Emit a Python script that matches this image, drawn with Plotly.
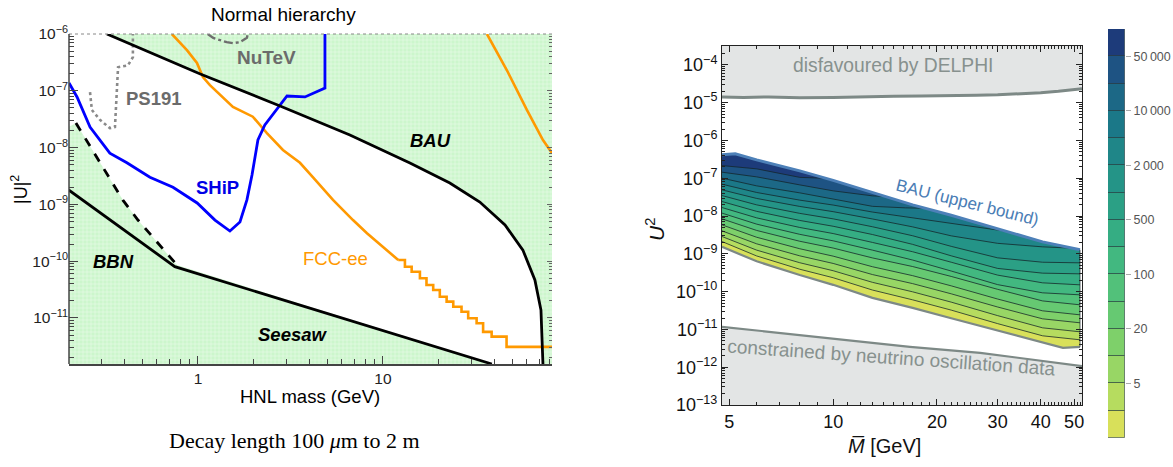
import numpy as np
import plotly.graph_objects as go

W, H = 1173, 467
SANS = "Liberation Sans, Arial, sans-serif"
SERIF = "Liberation Serif, Times New Roman, serif"

# ------------------------------------------------------------------
# Left panel: HNL mass (GeV) vs |U|^2, normal hierarchy
# ------------------------------------------------------------------
bau_mass = [0.322, 1.03, 2.78, 6.63, 14.0, 23.0, 33.4, 45.7, 57.1, 66.3, 71.5, 73.3]
bau_u2 = [1.0e-6, 1.98e-7, 5.4e-8, 1.67e-8, 5.36e-9, 2.38e-9, 1.10e-9, 4.34e-10,
          1.57e-10, 4.67e-11, 1.38e-11, 1.55e-12]

seesaw_mass = [0.2, 0.75, 38.8]
seesaw_u2 = [1.8e-9, 8.0e-11, 1.55e-12]

bbn_mass = [0.219, 0.393, 0.474, 0.77]
bbn_u2 = [2.71e-8, 1.19e-9, 5.31e-10, 8.57e-11]

ship_mass = [0.201, 0.222, 0.261, 0.334, 0.413, 0.550, 0.733, 0.99, 1.236, 1.489,
             1.687, 1.84, 1.96, 2.11, 2.30, 2.67, 3.03, 3.79, 4.86, 4.86]
ship_u2 = [1.37e-7, 7.8e-8, 2.3e-8, 8.0e-9, 5.4e-9, 3.0e-9, 2.0e-9, 1.06e-9, 5.3e-10, 3.4e-10,
           4.9e-10, 1.2e-9, 3.3e-9, 1.36e-8, 2.5e-8, 4.6e-8, 8.1e-8, 7.8e-8, 1.12e-7, 1.0e-6]

fcc_mass = [0.723, 0.872, 0.988, 1.064, 1.161, 1.546, 1.98, 2.36, 2.88, 3.56, 4.19,
            5.37, 6.89, 8.20, 12.1]
fcc_u2 = [1.0e-6, 5.2e-7, 3.1e-7, 1.75e-7, 1.26e-7, 5.2e-8, 3.5e-8, 1.8e-8, 9.1e-9, 5.4e-9,
          3.0e-9, 1.2e-9, 5.3e-10, 3.1e-10, 1.05e-10]
fcc_step_mass = [12.1, 13.15, 14.3, 15.85, 17.2, 18.7, 20.3, 22.1, 24.0, 26.6, 28.9, 32.1,
                 34.8, 38.7, 46.6, 82.0]
fcc_step_u2 = [1.05e-10, 8.0e-11, 6.5e-11, 5.0e-11, 3.81e-11, 3.11e-11, 2.37e-11, 1.94e-11,
               1.58e-11, 1.29e-11, 9.9e-12, 8.1e-12, 5.7e-12, 4.7e-12, 3.1e-12, 3.1e-12]
fcc_heavy_mass = [36.5, 46.8, 60.0, 73.3, 82.0]
fcc_heavy_u2 = [1.0e-6, 2.3e-7, 4.6e-8, 1.36e-8, 8.0e-9]

ps191_mass = [0.261, 0.267, 0.295, 0.334, 0.356, 0.365, 0.370, 0.418, 0.445, 0.445]
ps191_u2 = [9.5e-8, 4.6e-8, 3.1e-8, 2.2e-8, 2.3e-8, 9.1e-8, 2.6e-7, 2.8e-7, 3.9e-7, 1.0e-6]

nutev_mass = [1.13, 1.21, 1.43, 1.55, 1.69, 1.84, 1.86]
nutev_u2 = [1.0e-6, 8.5e-7, 7.2e-7, 6.9e-7, 7.2e-7, 8.6e-7, 1.0e-6]

left_yticks = [1e-11, 1e-10, 1e-9, 1e-8, 1e-7, 1e-6]
left_ytext = ["10<sup>\u221211</sup>", "10<sup>\u221210</sup>", "10<sup>\u22129</sup>",
              "10<sup>\u22128</sup>", "10<sup>\u22127</sup>", "10<sup>\u22126</sup>"]
left_xticks = [1, 10]
left_xtext = ["1", "10"]

# ------------------------------------------------------------------
# Right panel: mean mass vs U^2 with contour bands (log10 U^2 values)
# ------------------------------------------------------------------
delphi_m = [4.76, 5.5, 6.5, 8, 10, 12, 15, 18, 22, 26, 30, 35, 40, 45, 52.7]
delphi_lg = [-4.85, -4.86, -4.85, -4.87, -4.86, -4.84, -4.83, -4.82, -4.82, -4.80,
             -4.79, -4.77, -4.74, -4.70, -4.63]

osc_m = [4.76, 9.6, 16.7, 26.7, 52.7]
osc_lg = [-10.93, -11.22, -11.46, -11.62, -11.97]

bau_r_m = [4.76, 5.2, 6, 8, 10, 13, 17, 22, 30, 40.5, 52]
bau_r_lg = [-6.381, -6.354, -6.513, -6.804, -7.056, -7.373, -7.704, -7.979, -8.344,
            -8.683, -8.894]

low_r_m = [4.76, 6, 8, 10, 13, 17, 22, 30, 40.5, 46.4, 52]
low_r_lg = [-8.815, -9.198, -9.561, -9.820, -10.164, -10.429, -10.706, -11.037, -11.354,
            -11.487, -11.460]

cols_m = [4.76, 6, 8, 10, 13, 17, 22, 30, 40.5, 52]
iso_2 = [-8.675, -9.056, -9.407, -9.632, -9.958, -10.217, -10.489, -10.847, -11.169, -11.275]
iso_5 = [-8.542, -8.902, -9.235, -9.447, -9.754, -10.005, -10.278, -10.635, -10.958, -11.063]
iso_10 = [-8.392, -8.735, -9.053, -9.254, -9.548, -9.788, -10.058, -10.407, -10.720, -10.825]
iso_20 = [-8.233, -8.561, -8.865, -9.061, -9.341, -9.577, -9.847, -10.196, -10.508, -10.614]
iso_50 = [-8.074, -8.381, -8.667, -8.847, -9.108, -9.336, -9.598, -9.939, -10.246, -10.349]
iso_100 = [-7.923, -8.214, -8.484, -8.656, -8.902, -9.164, -9.455, -9.815, -10.032, -10.085]
iso_200 = [-7.775, -8.048, -8.302, -8.463, -8.698, -8.944, -9.222, -9.563, -9.767, -9.820]
iso_500 = [-7.616, -7.876, -8.116, -8.270, -8.489, -8.749, -9.053, -9.386, -9.511, -9.529]
iso_1000 = [-7.458, -7.704, -7.929, -8.074, -8.283, -8.521, -8.802, -9.106, -9.222, -9.238]
iso_2000_m = [4.76, 6, 8, 10, 13, 17, 22, 30, 40.5, 49.3]
iso_2000 = [-7.307, -7.534, -7.746, -7.884, -8.077, -8.286, -8.524, -8.722, -8.815, -8.85]
iso_5000_m = [4.76, 6, 8, 10, 13, 17, 22, 31.5]
iso_5000 = [-7.156, -7.376, -7.579, -7.709, -7.894, -8.048, -8.206, -8.398]
iso_10000_m = [4.76, 6, 8, 10, 13, 16.2, 18.5]
iso_10000 = [-6.997, -7.201, -7.386, -7.545, -7.743, -7.783, -7.795]
iso_20000_m = [4.76, 6, 8, 10, 13, 14.2]
iso_20000 = [-6.839, -6.963, -7.175, -7.333, -7.466, -7.482]
iso_50000_m = [4.76, 6, 8, 9.48]
iso_50000 = [-6.664, -6.751, -6.976, -7.000]

levels = [1, 2, 5, 10, 20, 50, 100, 200, 500, 1000, 2000, 5000, 10000, 20000, 50000, 100000]
level_labels = [5, 20, 100, 500, 2000, 10000, 50000]
band_colors = ["#d8e05a", "#b6dc5f", "#98d665", "#7ed06a", "#66c972", "#52c17a", "#42b880",
               "#35ad83", "#2ba085", "#249487", "#1f8688", "#1b7888", "#1c6886", "#1e5383",
               "#1d3b7a"]

right_yticks = [10.0 ** e for e in range(-13, -3)]
right_ytext = ["10<sup>\u2212%d</sup>" % -e for e in range(-13, -3)]
right_xticks = [5, 10, 20, 30, 40, 50]

# ------------------------------------------------------------------
fig = go.Figure()


def line(x, y, color, width=2.8, dash=None, shape="linear", xa="x", ya="y"):
    fig.add_trace(go.Scatter(x=x, y=y, mode="lines", xaxis=xa, yaxis=ya,
                             line=dict(color=color, width=width, dash=dash, shape=shape),
                             hoverinfo="skip", showlegend=False))


def area(x, y, color, pattern=None, xa="x", ya="y"):
    fig.add_trace(go.Scatter(x=x, y=y, mode="lines", fill="toself", fillcolor=color,
                             fillpattern=pattern, xaxis=xa, yaxis=ya,
                             line=dict(width=0, color=color),
                             hoverinfo="skip", showlegend=False))


GREEN = "#ccf6cc"
hatch = dict(shape="+", fgcolor="rgba(255,255,255,0.9)", bgcolor=GREEN, size=4, solidity=0.33)

# excluded (green) regions
area(bau_mass + [90, 90, 0.30], bau_u2 + [1e-12, 1.3e-6, 1.3e-6], GREEN, hatch)
area([0.2] + bbn_mass + [seesaw_mass[-1], seesaw_mass[-1], 0.2],
     [2.3e-8] + bbn_u2 + [seesaw_u2[-1], 1e-12, 1e-12], GREEN, hatch)

line(ps191_mass, ps191_u2, "#8a8a8a", 2.6, "dot")
line(nutev_mass, nutev_u2, "#6e6e6e", 2.4, "dashdot")
line(fcc_mass, fcc_u2, "#ff9900", 2.6)
line(fcc_step_mass, fcc_step_u2, "#ff9900", 2.6, shape="hv")
line(fcc_heavy_mass, fcc_heavy_u2, "#ff9900", 2.6)
line(ship_mass, ship_u2, "#0000ff", 2.8)
line(bbn_mass, bbn_u2, "#000000", 2.8, "dash")
line(seesaw_mass, seesaw_u2, "#000000", 2.8)
line(bau_mass, bau_u2, "#000000", 2.8)

# placeholder so the right-hand tick axis of the left panel is drawn
fig.add_trace(go.Scatter(x=[], y=[], xaxis="x", yaxis="y4", showlegend=False))

# ---------------- right panel ----------------
def lg2u(v):
    return list(10.0 ** np.asarray(v, dtype=float))


area(delphi_m + [52.7, 4.76], lg2u(delphi_lg + [-3.4, -3.4]), "#e3e5e5", xa="x2", ya="y2")
area(osc_m + [52.7, 4.76], lg2u(osc_lg + [-13.1, -13.1]), "#e3e5e5", xa="x2", ya="y2")
line(delphi_m, lg2u(delphi_lg), "#7d8986", 3.0, xa="x2", ya="y2")
line(osc_m, lg2u(osc_lg), "#7d8986", 2.2, xa="x2", ya="y2")

# base band between the lower boundary and the BAU bound
area(low_r_m + bau_r_m[::-1], lg2u(low_r_lg + bau_r_lg[::-1]), band_colors[0], xa="x2", ya="y2")

iso_lines = [
    (cols_m, iso_2), (cols_m, iso_5), (cols_m, iso_10), (cols_m, iso_20), (cols_m, iso_50),
    (cols_m, iso_100), (cols_m, iso_200), (cols_m, iso_500), (cols_m, iso_1000),
    (iso_2000_m, iso_2000), (iso_5000_m, iso_5000), (iso_10000_m, iso_10000),
    (iso_20000_m, iso_20000), (iso_50000_m, iso_50000),
]

# each band: everything above a contour up to the BAU bound, painted bottom to top
for k, (mm, lg) in enumerate(iso_lines):
    m_end = mm[-1]
    top = [(m, v) for m, v in zip(bau_r_m, bau_r_lg) if m <= m_end + 1e-9][::-1]
    xs = list(mm) + [t[0] for t in top]
    ys = list(lg) + [t[1] for t in top]
    area(xs, lg2u(ys), band_colors[k + 1], xa="x2", ya="y2")

for mm, lg in iso_lines:
    line(mm, lg2u(lg), "rgba(20,35,40,0.85)", 0.9, xa="x2", ya="y2")

line(low_r_m, lg2u(low_r_lg), "#7d8986", 2.2, xa="x2", ya="y2")
line(bau_r_m, lg2u(bau_r_lg), "#4d80b8", 3.0, xa="x2", ya="y2")
line([bau_r_m[-1], low_r_m[-1]], lg2u([bau_r_lg[-1], low_r_lg[-1]]),
     "rgba(20,35,40,0.7)", 1.0, xa="x2", ya="y2")

# ---------------- colour legend ----------------
n_bands = len(levels) - 1
fig.add_trace(go.Bar(x=[0] * n_bands, y=[1] * n_bands, base=list(range(n_bands)), width=1,
                     marker=dict(color=band_colors, line=dict(color="rgba(25,45,50,0.55)", width=1)),
                     xaxis="x3", yaxis="y3", hoverinfo="skip", showlegend=False))
cb_ticks = [levels.index(v) for v in level_labels]
cb_text = ["{:,}".format(v).replace(",", "\u2009") for v in level_labels]


# ------------------------------------------------------------------
def fx(px):
    return px / W


def fy(py):
    return 1 - py / H


left_xminor = [d * 10.0 ** e for e in (-1, 0, 1) for d in range(2, 10) if 0.2 < d * 10.0 ** e < 82]
left_yminor = [d * 10.0 ** e for e in range(-12, -6) for d in range(2, 10)]
right_xminor = [v for v in range(6, 53) if v not in right_xticks]
right_yminor = [d * 10.0 ** e for e in range(-13, -3) for d in range(2, 10)]

left_font = dict(family=SANS, size=15.5, color="#222")
right_font = dict(family=SANS, size=18, color="#111")

ann = []


def label(text, x, y, size, color, family=SANS, angle=0):
    ann.append(dict(text=text, x=fx(x), y=fy(y), xref="paper", yref="paper", showarrow=False,
                    xanchor="center", yanchor="middle", textangle=angle,
                    font=dict(family=family, size=size, color=color)))


label("Normal hierarchy", 283, 14, 19, "#000")
label("<b>NuTeV</b>", 266, 57, 19, "#6b6b6b")
label("<b>PS191</b>", 154, 98, 18.5, "#6b6b6b")
label("<b>SHiP</b>", 217, 188, 18.5, "#0000e6")
label("<b><i>BAU</i></b>", 430, 140, 18.5, "#000")
label("<b><i>BBN</i></b>", 113, 261, 18.5, "#000")
label("<b><i>Seesaw</i></b>", 292, 334, 18.5, "#000")
label("FCC-ee", 335, 258, 18.5, "#ff9900")
label("HNL mass (GeV)", 310, 396, 18.5, "#000")
label("|U|<sup>2</sup>", 20, 190, 18, "#000", angle=-90)
label("Decay length 100 <i>\u03bc</i>m to 2 m", 294, 440, 22, "#000", family=SERIF)

label("disfavoured by DELPHI", 893, 66, 19.3, "#87918e")
label("constrained by neutrino oscillation data", 892, 357, 19, "#87918e", angle=4)
label("BAU (upper bound)", 967, 203, 17, "#4a7db5", angle=14)
label("<i>U</i><sup>2</sup>", 655, 230, 21, "#111", angle=-90)
label("<i>M\u0305</i> [GeV]", 884, 446, 20, "#111")

shapes = [
    # left panel: dotted top frame and solid left frame
    dict(type="line", xref="paper", yref="paper", x0=fx(69), x1=fx(552), y0=fy(34), y1=fy(34),
         line=dict(color="#888", width=1, dash="dot")),
    dict(type="line", xref="paper", yref="paper", x0=fx(69), x1=fx(69), y0=fy(364), y1=fy(34),
         line=dict(color="#444", width=1.5)),
]

fig.update_layout(
    width=W, height=H, margin=dict(l=0, r=0, t=0, b=0),
    paper_bgcolor="white", plot_bgcolor="white", bargap=0, showlegend=False,
    annotations=ann, shapes=shapes,
    xaxis=dict(domain=[fx(69), fx(552)], anchor="y", type="log", range=[-0.697, 1.914],
               tickmode="array", tickvals=left_xticks, ticktext=left_xtext,
               ticks="inside", ticklen=8, tickcolor="#444", tickwidth=1,
               minor=dict(tickmode="array", tickvals=left_xminor, ticks="inside", ticklen=5,
                          tickcolor="#444"),
               showline=True, linecolor="#444", linewidth=1.5, showgrid=False, zeroline=False,
               tickfont=left_font, automargin=False),
    yaxis=dict(domain=[fy(364), fy(34)], anchor="x", type="log", range=[-11.81, -6],
               tickmode="array", tickvals=left_yticks, ticktext=left_ytext,
               ticks="inside", ticklen=9, tickcolor="#444", tickwidth=1,
               minor=dict(tickmode="array", tickvals=left_yminor, ticks="inside", ticklen=5,
                          tickcolor="#444"),
               showline=False, showgrid=False, zeroline=False, tickfont=left_font,
               automargin=False),
    yaxis4=dict(overlaying="y", anchor="x", side="right", type="log", range=[-11.81, -6],
                tickmode="array", tickvals=left_yticks, showticklabels=False,
                ticks="inside", ticklen=5, tickcolor="#666",
                minor=dict(tickmode="array", tickvals=left_yminor, ticks="inside", ticklen=3,
                           tickcolor="#666"),
                showline=False, showgrid=False, zeroline=False),
    xaxis2=dict(domain=[fx(722), fx(1082)], anchor="y2", type="log", range=[0.6776, 1.7218],
                tickmode="array", tickvals=right_xticks, ticktext=[str(v) for v in right_xticks],
                ticks="inside", ticklen=6, tickcolor="#222",
                minor=dict(tickmode="array", tickvals=right_xminor, ticks="inside", ticklen=3,
                           tickcolor="#222"),
                showline=True, linecolor="#222", linewidth=1, mirror="allticks",
                showgrid=False, zeroline=False, tickfont=right_font, automargin=False),
    yaxis2=dict(domain=[fy(405), fy(46)], anchor="x2", type="log", range=[-13, -3.5],
                tickmode="array", tickvals=right_yticks, ticktext=right_ytext,
                ticks="inside", ticklen=6, tickcolor="#222",
                minor=dict(tickmode="array", tickvals=right_yminor, ticks="inside", ticklen=3,
                           tickcolor="#222"),
                showline=True, linecolor="#222", linewidth=1, mirror="allticks",
                showgrid=False, zeroline=False, tickfont=right_font, automargin=False),
    xaxis3=dict(domain=[fx(1108), fx(1125)], anchor="y3", range=[-0.5, 0.5], visible=False),
    yaxis3=dict(domain=[fy(438), fy(29)], anchor="x3", side="right", range=[0, n_bands],
                tickmode="array", tickvals=cb_ticks, ticktext=cb_text,
                ticks="outside", ticklen=5, tickcolor="#aaa",
                showline=False, showgrid=False, zeroline=False,
                tickfont=dict(family=SANS, size=12.5, color="#555"), automargin=False),
)

fig.write_html("out.html")
